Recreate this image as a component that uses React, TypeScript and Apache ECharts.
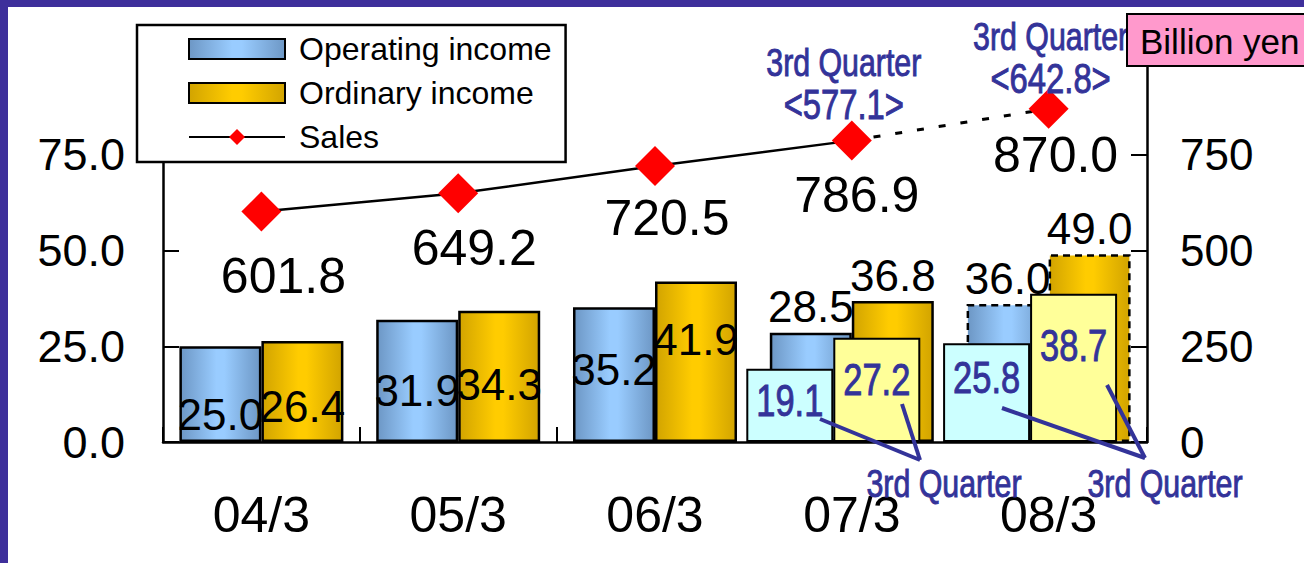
import React, { useEffect, useRef } from "react";
import * as echarts from "echarts";

// ---- data ----
const categories = ["04/3", "05/3", "06/3", "07/3", "08/3"];
const operatingIncome = [25.0, 31.9, 35.2, 28.5, 36.0];
const ordinaryIncome = [26.4, 34.3, 41.9, 36.8, 49.0];
const q3OperatingIncome = [null, null, null, 19.1, 25.8];
const q3OrdinaryIncome = [null, null, null, 27.2, 38.7];
const sales = [601.8, 649.2, 720.5, 786.9, 870.0];
const q3Sales = [null, null, null, 577.1, 642.8];
const forecastIndex = 4; // 08/3 is a forecast
const leftAxisMax = 100;
const leftAxisStep = 25;
const rightAxisMax = 1000;
const rightAxisStep = 250;

// ---- layout / style (not data) ----
const FONT = "'Liberation Sans', Arial, Helvetica, sans-serif";
const NAVY = "#333399";
const PURPLE = "#3e2f9b";
const NARROW_SCALE = 0.82;
const Q3_BAR_WIDTH = 87;
const labelAboveFrom = 3;
const opInsideDy = [20, 10, -5];
const ordInsideDy = [15, 8, -22];
const q3OpDy = [0, 0, 0, 0, 2];
const q3OrdDy = [0, 0, 0, 10, 20];
const salesLabelOffset = [[22, 64], [16, 55], [12, 52], [5, 54], [7, 46]];
const q3AnnotOffset = [[0, 0], [0, 0], [0, 0], [-8, -57], [2, -51]];

const grad = (edge: string, mid: string) =>
  new echarts.graphic.LinearGradient(0, 0, 1, 0, [
    { offset: 0, color: edge },
    { offset: 0.45, color: mid },
    { offset: 0.55, color: mid },
    { offset: 1, color: edge },
  ]);

const navyText = (text: string, x: number, y: number, size: number, vAlign: string) => ({
  type: "text",
  z: 120,
  x,
  y,
  scaleX: NARROW_SCALE,
  scaleY: 1.04,
  style: {
    text,
    fontFamily: FONT,
    fontSize: size,
    fill: NAVY,
    stroke: NAVY,
    lineWidth: 0.9,
    align: "center",
    verticalAlign: vAlign,
  },
});

export default function App() {
  const ref = useRef<HTMLDivElement>(null);
  useEffect(() => {
    if (!ref.current) return;
    const chart = echarts.init(ref.current, undefined, { renderer: "svg" });
    const blue = grad("#6d97c5", "#99ccff");
    const gold = grad("#d2a400", "#ffcc00");

    const mainBarData = (vals: number[], dy: number[]) =>
      vals.map((v, i) => ({
        value: v,
        itemStyle: i === forecastIndex ? { borderType: [7, 5] } : {},
        label:
          i >= labelAboveFrom
            ? { position: "top", distance: 4 }
            : { position: "inside", offset: [0, dy[i]] },
      }));

    const q3BarData = (vals: (number | null)[]) => vals.map((v) => (v == null ? "-" : v));

    const solidSales = sales.map((v, i) =>
      i < forecastIndex ? { value: v, label: { offset: salesLabelOffset[i] } } : "-"
    );
    const dashedSales = sales.map((v, i) =>
      i < forecastIndex - 1
        ? "-"
        : i === forecastIndex - 1
        ? { value: v, symbol: "none", label: { show: false } }
        : { value: v, label: { offset: salesLabelOffset[i] } }
    );

    const staticGraphic: any[] = [
      { type: "rect", z: 200, shape: { x: 0, y: 0, width: 1304, height: 7 }, style: { fill: PURPLE } },
      { type: "rect", z: 200, shape: { x: 0, y: 0, width: 8, height: 563 }, style: { fill: PURPLE } },
      {
        type: "rect",
        z: 150,
        shape: { x: 1127, y: 14, width: 200, height: 52 },
        style: { fill: "#ff99cc", stroke: "#000", lineWidth: 2 },
      },
      {
        type: "text",
        z: 151,
        x: 1140,
        y: 41,
        style: {
          text: "Billion yen",
          fontFamily: FONT,
          fontSize: 35,
          fill: "#000",
          align: "left",
          verticalAlign: "middle",
        },
      },
      { type: "line", z: 100, shape: { x1: 820, y1: 419, x2: 920, y2: 460 }, style: { stroke: NAVY, lineWidth: 4 } },
      { type: "line", z: 100, shape: { x1: 902, y1: 404, x2: 920, y2: 460 }, style: { stroke: NAVY, lineWidth: 4 } },
      { type: "line", z: 100, shape: { x1: 1002, y1: 408, x2: 1145, y2: 458 }, style: { stroke: NAVY, lineWidth: 4 } },
      { type: "line", z: 100, shape: { x1: 1107, y1: 385, x2: 1145, y2: 458 }, style: { stroke: NAVY, lineWidth: 4 } },
      navyText("3rd Quarter", 944, 484, 37, "middle"),
      navyText("3rd Quarter", 1165, 484, 37, "middle"),
    ];

    const option: any = {
      animation: false,
      backgroundColor: "#ffffff",
      textStyle: { fontFamily: FONT },
      grid: [
        { left: 163, right: 157, top: 59, bottom: 121 },
        { left: 144.5, right: 175.5, top: 59, bottom: 121 },
      ],
      legend: {
        data: [
          { name: "Operating income", icon: "rect" },
          { name: "Ordinary income", icon: "rect" },
          { name: "Sales" },
        ],
        orient: "vertical",
        left: 137,
        top: 25,
        padding: [6, 14, 7, 51],
        itemWidth: 96,
        itemHeight: 20,
        itemGap: 8,
        backgroundColor: "#ffffff",
        borderColor: "#000000",
        borderWidth: 2.5,
        borderRadius: 0,
        selectedMode: false,
        z: 20,
        textStyle: {
          fontFamily: FONT,
          fontSize: 32,
          lineHeight: 36,
          color: "#000",
          padding: [0, 0, 0, 9],
        },
      },
      xAxis: [
        {
          type: "category",
          gridIndex: 0,
          data: categories,
          axisLine: { lineStyle: { color: "#000", width: 2.5 } },
          axisTick: { show: true, inside: true, length: 15, lineStyle: { color: "#000", width: 2 } },
          axisLabel: { fontFamily: FONT, fontSize: 50, color: "#000", margin: 48 },
          splitLine: { show: false },
        },
        { type: "category", gridIndex: 1, data: categories, show: false },
      ],
      yAxis: [
        {
          type: "value",
          gridIndex: 0,
          min: 0,
          max: leftAxisMax,
          interval: leftAxisStep,
          axisLine: { show: true, lineStyle: { color: "#000", width: 2.5 } },
          axisTick: { show: true, inside: true, length: 16, lineStyle: { color: "#000", width: 2 } },
          axisLabel: {
            fontFamily: FONT,
            fontSize: 45,
            color: "#000",
            margin: 38,
            showMaxLabel: false,
            formatter: (v: number) => v.toFixed(1),
          },
          splitLine: { show: false },
        },
        {
          type: "value",
          gridIndex: 0,
          position: "right",
          min: 0,
          max: rightAxisMax,
          interval: rightAxisStep,
          axisLine: { show: true, lineStyle: { color: "#000", width: 2.5 } },
          axisTick: { show: true, inside: true, length: 16, lineStyle: { color: "#000", width: 2 } },
          axisLabel: {
            fontFamily: FONT,
            fontSize: 44,
            color: "#000",
            margin: 33,
            showMaxLabel: false,
            formatter: (v: number) => String(v),
          },
          splitLine: { show: false },
        },
        { type: "value", gridIndex: 1, min: 0, max: leftAxisMax, show: false },
      ],
      series: [
        {
          name: "Operating income",
          type: "bar",
          xAxisIndex: 0,
          yAxisIndex: 0,
          barWidth: 82,
          barGap: "0%",
          z: 2,
          itemStyle: { color: blue, borderColor: "#000", borderWidth: 2.5 },
          label: {
            show: true,
            color: "#000",
            fontFamily: FONT,
            fontSize: 44,
            formatter: (p: any) => Number(p.value).toFixed(1),
          },
          data: mainBarData(operatingIncome, opInsideDy),
        },
        {
          name: "Ordinary income",
          type: "bar",
          xAxisIndex: 0,
          yAxisIndex: 0,
          barWidth: 82,
          barGap: "0%",
          z: 2,
          itemStyle: { color: gold, borderColor: "#000", borderWidth: 2.5 },
          label: {
            show: true,
            color: "#000",
            fontFamily: FONT,
            fontSize: 44,
            formatter: (p: any) => Number(p.value).toFixed(1),
          },
          data: mainBarData(ordinaryIncome, ordInsideDy),
        },
        {
          name: "3rd Quarter operating income",
          type: "bar",
          xAxisIndex: 1,
          yAxisIndex: 2,
          barWidth: Q3_BAR_WIDTH,
          barGap: "0%",
          z: 3,
          itemStyle: { color: "#ccffff", borderColor: "#000", borderWidth: 2 },
          data: q3BarData(q3OperatingIncome),
        },
        {
          name: "3rd Quarter ordinary income",
          type: "bar",
          xAxisIndex: 1,
          yAxisIndex: 2,
          barWidth: Q3_BAR_WIDTH,
          barGap: "0%",
          z: 3,
          itemStyle: { color: "#ffff99", borderColor: "#000", borderWidth: 2 },
          data: q3BarData(q3OrdinaryIncome),
        },
        {
          name: "Sales",
          type: "line",
          xAxisIndex: 0,
          yAxisIndex: 1,
          z: 6,
          symbol: "diamond",
          symbolSize: 40,
          itemStyle: { color: "#ff0000" },
          lineStyle: { color: "#000", width: 2.5 },
          label: {
            show: true,
            position: "inside",
            color: "#000",
            fontFamily: FONT,
            fontSize: 50,
            formatter: (p: any) => Number(p.value).toFixed(1),
          },
          data: solidSales,
        },
        {
          name: "Sales forecast",
          type: "line",
          xAxisIndex: 0,
          yAxisIndex: 1,
          z: 5,
          symbol: "diamond",
          symbolSize: 40,
          itemStyle: { color: "#ff0000" },
          lineStyle: { color: "#000", width: 3, type: [7, 15] },
          label: {
            show: true,
            position: "inside",
            color: "#000",
            fontFamily: FONT,
            fontSize: 50,
            formatter: (p: any) => Number(p.value).toFixed(1),
          },
          data: dashedSales,
        },
      ],
      graphic: staticGraphic,
    };
    chart.setOption(option);

    // Navy texts placed through the chart's own scales (narrow face via scaleX)
    const dynamic: any[] = [];
    categories.forEach((cat, i) => {
      const op = q3OperatingIncome[i];
      const ord = q3OrdinaryIncome[i];
      if (op != null) {
        const [cx, cy] = chart.convertToPixel({ xAxisIndex: 1, yAxisIndex: 2 }, [cat, op]) as number[];
        dynamic.push(navyText(op.toFixed(1), cx - Q3_BAR_WIDTH / 2, cy + 10 + q3OpDy[i], 42, "top"));
      }
      if (ord != null) {
        const [cx, cy] = chart.convertToPixel({ xAxisIndex: 1, yAxisIndex: 2 }, [cat, ord]) as number[];
        dynamic.push(navyText(ord.toFixed(1), cx + Q3_BAR_WIDTH / 2, cy + 10 + q3OrdDy[i], 42, "top"));
      }
      const q = q3Sales[i];
      if (q != null) {
        const [px, py] = chart.convertToPixel({ xAxisIndex: 0, yAxisIndex: 1 }, [cat, sales[i]]) as number[];
        const ox = px + q3AnnotOffset[i][0];
        const oy = py + q3AnnotOffset[i][1];
        dynamic.push({ ...navyText("3rd Quarter", ox, oy - 21, 37, "middle"), z: 140 });
        dynamic.push({ ...navyText(`<${q.toFixed(1)}>`, ox, oy + 21, 40, "middle"), z: 140 });
      }
    });
    chart.setOption({ graphic: [...staticGraphic, ...dynamic] });

    return () => chart.dispose();
  }, []);

  return (
    <div
      ref={ref}
      style={{ position: "fixed", left: 0, top: 0, width: 1304, height: 563, background: "#fff" }}
    />
  );
}
